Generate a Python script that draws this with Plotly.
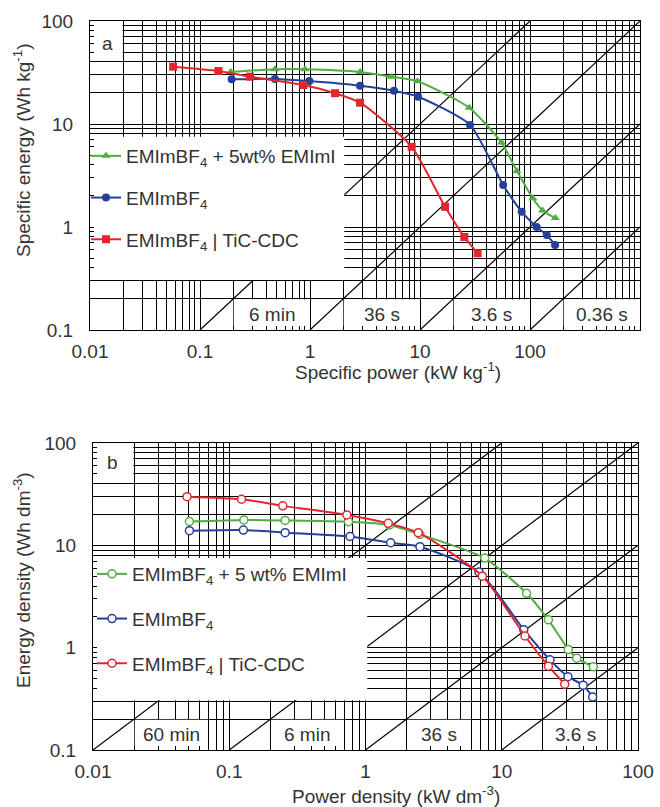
import math
import plotly.graph_objects as go

W, H = 660, 807

# ---------------- data: panel a (gravimetric) ----------------
a_green_x = [0.19, 0.48, 0.9, 2.85, 5.5, 9.5, 28, 55, 76, 106, 130, 170]
a_green_y = [32, 34, 34, 32, 28.8, 26, 14.4, 6.6, 3.5, 1.9, 1.45, 1.22]
a_blue_x = [0.194, 0.48, 0.986, 2.85, 5.8, 9.6, 28.5, 57, 84, 115, 142, 169]
a_blue_y = [27.2, 27.4, 26.1, 23.5, 21, 18.4, 9.8, 2.56, 1.41, 1.0, 0.835, 0.668]
a_red_x = [0.057, 0.147, 0.285, 0.87, 1.69, 2.85, 8.4, 16.9, 25.3, 33.4]
a_red_y = [36, 32.7, 28.8, 23.9, 19.9, 16.1, 6.0, 1.57, 0.8, 0.556]

# ---------------- data: panel b (volumetric) ----------------
b_green_x = [0.051, 0.128, 0.257, 0.75, 1.5, 2.5, 7.5, 15.2, 22, 30.8, 35.5, 47]
b_green_y = [17.1, 17.7, 17.5, 17.0, 15.8, 12.8, 7.5, 3.4, 1.87, 0.96, 0.79, 0.65]
b_blue_x = [0.051, 0.127, 0.257, 0.77, 1.53, 2.51, 6.8, 14.5, 22.6, 30.6, 39.6, 46.5]
b_blue_y = [13.9, 14.1, 13.3, 12.2, 10.6, 9.7, 5.5, 1.5, 0.76, 0.52, 0.43, 0.33]
b_red_x = [0.049, 0.123, 0.247, 0.73, 1.47, 2.44, 7.2, 14.8, 22, 29]
b_red_y = [29.9, 28.2, 24.3, 19.8, 16.4, 13.3, 5.0, 1.3, 0.66, 0.44]

series_names = ["EMImBF<sub>4</sub> + 5wt% EMImI", "EMImBF<sub>4</sub>", "EMImBF<sub>4</sub> | TiC-CDC"]
series_names_b = ["EMImBF<sub>4</sub> + 5 wt% EMImI", "EMImBF<sub>4</sub>", "EMImBF<sub>4</sub> | TiC-CDC"]
colors = ["#4fae3f", "#25409a", "#e3262c"]

# tick labels
a_x_ticklabels = ["0.01", "0.1", "1", "10", "100", "1000"]
b_x_ticklabels = ["0.01", "0.1", "1", "10", "100"]
y_ticklabels = ["0.1", "1", "10", "100"]

# constant-time diagonals (E = c * P)
a_diag_c = [1, 0.1, 0.01, 0.001]
b_diag_c = [10, 1, 0.1, 0.01]

# time labels and their boxes [x0, x1] (y from 0.1 to 0.2)
a_time_labels = ["6 min", "36 s", "3.6 s", "0.36 s"]
a_time_boxes = [(0.2, 1), (2, 10), (20, 100), (200, 1000)]
b_time_labels = ["60 min", "6 min", "36 s", "3.6 s"]
b_time_boxes = [(0.02, 0.07), (0.2, 0.7), (2, 6), (20, 60)]

FONT = "Liberation Sans, Arial, sans-serif"
TXT = "#333333"


def log_ticks(labels):
    vals, text = [], []
    decs = [float(l) for l in labels]
    for i, d in enumerate(decs):
        if i == len(decs) - 1:
            vals.append(d); text.append(labels[i]); break
        for m in range(1, 10):
            vals.append(m * d)
            text.append(labels[i] if m == 1 else "")
    return vals, text


fig = go.Figure()

# ---- panel a traces ----
a_sets = [(a_green_x, a_green_y, "triangle-up", 8), (a_blue_x, a_blue_y, "circle", 8), (a_red_x, a_red_y, "square", 8)]
for i, (xs, ys, sym, sz) in enumerate(a_sets):
    fig.add_trace(go.Scatter(
        x=xs, y=ys, mode="lines+markers", name=series_names[i],
        line=dict(color=colors[i], width=2, shape="spline", smoothing=0.6),
        marker=dict(symbol=sym, size=sz, color=colors[i]),
        xaxis="x", yaxis="y", legend="legend", legendgroup="a%d" % i))

# ---- panel b traces ----
b_sets = [(b_green_x, b_green_y), (b_blue_x, b_blue_y), (b_red_x, b_red_y)]
for i, (xs, ys) in enumerate(b_sets):
    fig.add_trace(go.Scatter(
        x=xs, y=ys, mode="lines+markers", name=series_names_b[i],
        line=dict(color=colors[i], width=2, shape="spline", smoothing=0.6),
        marker=dict(symbol="circle", size=8, color="white", line=dict(color=colors[i], width=1.5)),
        xaxis="x2", yaxis="y2", legend="legend2", legendgroup="b%d" % i))

shapes = []
annotations = []


def txt(**kw):
    d = dict(showarrow=False, xanchor="center", yanchor="middle", font=dict(size=19, color=TXT, family=FONT))
    d.update(kw)
    return d


def add_panel_decor(xref, yref, xmin, xmax, ymin, ymax, diag_c, boxes, labels, letter, letter_pos, legend_box):
    # diagonals
    for c in diag_c:
        x0 = max(xmin, ymin / c); x1 = min(xmax, ymax / c)
        shapes.append(dict(type="line", xref=xref, yref=yref, x0=x0, y0=c * x0, x1=x1, y1=c * x1,
                           line=dict(color="black", width=1.2), layer="between"))
    # white boxes
    f = 1.012
    for (bx0, bx1), lab in zip(boxes, labels):
        shapes.append(dict(type="rect", xref=xref, yref=yref, x0=bx0 * f, x1=bx1 / f, y0=ymin, y1=0.2 / f,
                           fillcolor="white", line=dict(width=0), layer="between"))
        annotations.append(txt(xref=xref, yref=yref, x=(math.log10(bx0) + math.log10(bx1)) / 2,
                               y=(math.log10(ymin) + math.log10(0.2)) / 2, text=lab))
    # letter box
    shapes.append(dict(type="rect", xref=xref, yref=yref, x0=xmin, x1=0.02 / f, y0=45, y1=ymax,
                       fillcolor="white", line=dict(width=0), layer="between"))
    annotations.append(txt(xref=xref, yref=yref, x=letter_pos[0], y=letter_pos[1], text=letter))
    # legend box
    shapes.append(dict(type="rect", xref=xref, yref=yref, x0=xmin, x1=legend_box[0], y0=0.3 * 1.02, y1=legend_box[1],
                       fillcolor="white", line=dict(width=0), layer="between"))


add_panel_decor("x", "y", 0.01, 1000, 0.1, 100, a_diag_c, a_time_boxes, a_time_labels, "a", (-1.845, 1.786), (2.05, 7.5))
add_panel_decor("x2", "y2", 0.01, 100, 0.1, 100, b_diag_c, b_time_boxes, b_time_labels, "b", (-1.86, 1.805), (1.03, 7.5))

# axis titles
annotations += [
    txt(xref="paper", yref="paper", x=398 / W, y=1 - 371 / H, text="Specific power (kW kg<sup>-1</sup>)"),
    txt(xref="paper", yref="paper", x=22 / W, y=1 - 150 / H, text="Specific energy (Wh kg<sup>-1</sup>)", textangle=-90),
    txt(xref="paper", yref="paper", x=396 / W, y=1 - 795 / H, text="Power density (kW dm<sup>-3</sup>)"),
    txt(xref="paper", yref="paper", x=22 / W, y=1 - 580 / H, text="Energy density (Wh dm<sup>-3</sup>)", textangle=-90),
]

ax_common = dict(type="log", showgrid=True, gridcolor="black", gridwidth=1.2, showline=True, linecolor="black",
                 linewidth=1.2, mirror=True, ticks="inside", ticklen=4, tickcolor="black", tickwidth=1,
                 tickfont=dict(size=19, color=TXT, family=FONT), zeroline=False, tickmode="array",
                 automargin=False, fixedrange=True)

ax_vals, ax_text = log_ticks(a_x_ticklabels)
bx_vals, bx_text = log_ticks(b_x_ticklabels)
y_vals, y_text = log_ticks(y_ticklabels)

fig.update_layout(
    width=W, height=H, margin=dict(l=0, r=0, t=0, b=0),
    paper_bgcolor="white", plot_bgcolor="white",
    font=dict(family=FONT, color=TXT),
    xaxis=dict(ax_common, domain=[90 / W, 640 / W], range=[-2, 3], tickvals=ax_vals, ticktext=ax_text,
               anchor="y", ticklabelstandoff=4),
    yaxis=dict(ax_common, domain=[1 - 330 / H, 1 - 21 / H], range=[-1, 2], tickvals=y_vals, ticktext=y_text,
               anchor="x", ticklabelstandoff=12),
    xaxis2=dict(ax_common, domain=[93 / W, 638 / W], range=[-2, 2], tickvals=bx_vals, ticktext=bx_text,
                anchor="y2", ticklabelstandoff=4),
    yaxis2=dict(ax_common, domain=[1 - 750 / H, 1 - 443 / H], range=[-1, 2], tickvals=y_vals, ticktext=y_text,
                anchor="x2", ticklabelstandoff=12),
    shapes=shapes, annotations=annotations,
    legend=dict(x=86 / W, y=1 - 137 / H, xanchor="left", yanchor="top", bgcolor="rgba(0,0,0,0)",
                font=dict(size=19, color=TXT, family=FONT), tracegroupgap=14, traceorder="grouped"),
    legend2=dict(x=92 / W, y=1 - 555 / H, xanchor="left", yanchor="top", bgcolor="rgba(0,0,0,0)",
                 font=dict(size=19, color=TXT, family=FONT), tracegroupgap=17, traceorder="grouped"),
    showlegend=True,
)

fig.write_html("out.html")
